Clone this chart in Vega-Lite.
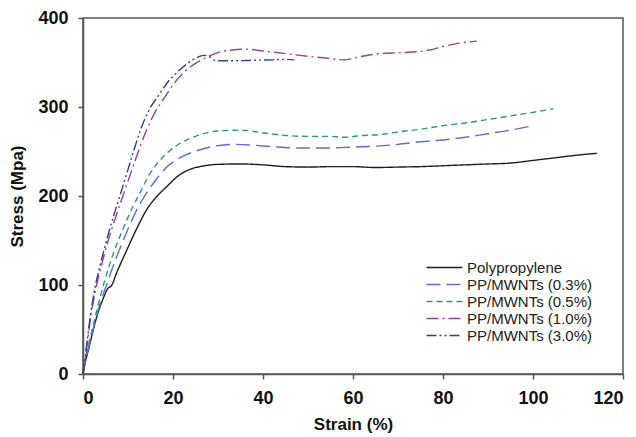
{
  "$schema": "https://vega.github.io/schema/vega-lite/v6.json",
  "width": 540,
  "height": 356,
  "autosize": "none",
  "padding": {"left": 83, "top": 18, "right": 13, "bottom": 63},
  "background": "white",
  "config": {
    "font": "Liberation Sans",
    "view": {"stroke": "#555555", "strokeWidth": 1.5},
    "axis": {
      "grid": false,
      "domainColor": "#555555",
      "domainWidth": 1.5,
      "tickColor": "#555555",
      "tickWidth": 1.5,
      "tickSize": 5,
      "labelFont": "Liberation Sans",
      "labelFontWeight": "bold",
      "labelFontSize": 18,
      "labelColor": "#111111",
      "titleFont": "Liberation Sans",
      "titleFontWeight": "bold",
      "titleFontSize": 17,
      "titleColor": "#111111"
    }
  },
  "data": {
    "values": [
      {"series": "Polypropylene", "strain": 0, "stress": 0},
      {"series": "Polypropylene", "strain": 0.5, "stress": 13},
      {"series": "Polypropylene", "strain": 1.25, "stress": 28},
      {"series": "Polypropylene", "strain": 2.2, "stress": 48},
      {"series": "Polypropylene", "strain": 3.1, "stress": 65},
      {"series": "Polypropylene", "strain": 4.5, "stress": 85},
      {"series": "Polypropylene", "strain": 5.5, "stress": 96},
      {"series": "Polypropylene", "strain": 6.3, "stress": 99},
      {"series": "Polypropylene", "strain": 7.5, "stress": 114},
      {"series": "Polypropylene", "strain": 9.8, "stress": 140},
      {"series": "Polypropylene", "strain": 12, "stress": 164},
      {"series": "Polypropylene", "strain": 14.2, "stress": 185},
      {"series": "Polypropylene", "strain": 16.5, "stress": 200},
      {"series": "Polypropylene", "strain": 18.7, "stress": 211},
      {"series": "Polypropylene", "strain": 21, "stress": 222},
      {"series": "Polypropylene", "strain": 23.8, "stress": 230},
      {"series": "Polypropylene", "strain": 26.5, "stress": 233.5},
      {"series": "Polypropylene", "strain": 29.8, "stress": 235.5},
      {"series": "Polypropylene", "strain": 35, "stress": 236},
      {"series": "Polypropylene", "strain": 40, "stress": 235},
      {"series": "Polypropylene", "strain": 45, "stress": 233},
      {"series": "Polypropylene", "strain": 50, "stress": 232.5},
      {"series": "Polypropylene", "strain": 55, "stress": 233},
      {"series": "Polypropylene", "strain": 60, "stress": 233},
      {"series": "Polypropylene", "strain": 65, "stress": 232},
      {"series": "Polypropylene", "strain": 70, "stress": 232.5},
      {"series": "Polypropylene", "strain": 75, "stress": 233},
      {"series": "Polypropylene", "strain": 80, "stress": 234},
      {"series": "Polypropylene", "strain": 85, "stress": 235},
      {"series": "Polypropylene", "strain": 90, "stress": 236},
      {"series": "Polypropylene", "strain": 95, "stress": 237},
      {"series": "Polypropylene", "strain": 100, "stress": 240},
      {"series": "Polypropylene", "strain": 105, "stress": 243},
      {"series": "Polypropylene", "strain": 110, "stress": 246},
      {"series": "Polypropylene", "strain": 114.2, "stress": 248},

      {"series": "PP/MWNTs (0.3%)", "strain": 0, "stress": 0},
      {"series": "PP/MWNTs (0.3%)", "strain": 0.5, "stress": 15},
      {"series": "PP/MWNTs (0.3%)", "strain": 1.25, "stress": 30},
      {"series": "PP/MWNTs (0.3%)", "strain": 3.1, "stress": 67},
      {"series": "PP/MWNTs (0.3%)", "strain": 5, "stress": 97},
      {"series": "PP/MWNTs (0.3%)", "strain": 7.9, "stress": 137},
      {"series": "PP/MWNTs (0.3%)", "strain": 10, "stress": 163},
      {"series": "PP/MWNTs (0.3%)", "strain": 12, "stress": 185},
      {"series": "PP/MWNTs (0.3%)", "strain": 15.3, "stress": 212},
      {"series": "PP/MWNTs (0.3%)", "strain": 18.5, "stress": 232},
      {"series": "PP/MWNTs (0.3%)", "strain": 22.4, "stress": 245},
      {"series": "PP/MWNTs (0.3%)", "strain": 26, "stress": 252},
      {"series": "PP/MWNTs (0.3%)", "strain": 29.8, "stress": 256.5},
      {"series": "PP/MWNTs (0.3%)", "strain": 34, "stress": 258},
      {"series": "PP/MWNTs (0.3%)", "strain": 38, "stress": 257},
      {"series": "PP/MWNTs (0.3%)", "strain": 42, "stress": 255.5},
      {"series": "PP/MWNTs (0.3%)", "strain": 48, "stress": 254},
      {"series": "PP/MWNTs (0.3%)", "strain": 55, "stress": 254},
      {"series": "PP/MWNTs (0.3%)", "strain": 60, "stress": 255},
      {"series": "PP/MWNTs (0.3%)", "strain": 65, "stress": 256},
      {"series": "PP/MWNTs (0.3%)", "strain": 70, "stress": 258},
      {"series": "PP/MWNTs (0.3%)", "strain": 75, "stress": 261},
      {"series": "PP/MWNTs (0.3%)", "strain": 80, "stress": 263},
      {"series": "PP/MWNTs (0.3%)", "strain": 85, "stress": 266},
      {"series": "PP/MWNTs (0.3%)", "strain": 90, "stress": 270},
      {"series": "PP/MWNTs (0.3%)", "strain": 95, "stress": 274},
      {"series": "PP/MWNTs (0.3%)", "strain": 100, "stress": 279},

      {"series": "PP/MWNTs (0.5%)", "strain": 0, "stress": 0},
      {"series": "PP/MWNTs (0.5%)", "strain": 0.5, "stress": 17},
      {"series": "PP/MWNTs (0.5%)", "strain": 1.25, "stress": 33},
      {"series": "PP/MWNTs (0.5%)", "strain": 3.1, "stress": 72},
      {"series": "PP/MWNTs (0.5%)", "strain": 5, "stress": 108},
      {"series": "PP/MWNTs (0.5%)", "strain": 6.8, "stress": 136},
      {"series": "PP/MWNTs (0.5%)", "strain": 8.8, "stress": 162},
      {"series": "PP/MWNTs (0.5%)", "strain": 10.9, "stress": 186},
      {"series": "PP/MWNTs (0.5%)", "strain": 12.4, "stress": 201},
      {"series": "PP/MWNTs (0.5%)", "strain": 15, "stress": 226},
      {"series": "PP/MWNTs (0.5%)", "strain": 18, "stress": 245},
      {"series": "PP/MWNTs (0.5%)", "strain": 20.9, "stress": 257},
      {"series": "PP/MWNTs (0.5%)", "strain": 25, "stress": 267},
      {"series": "PP/MWNTs (0.5%)", "strain": 29.8, "stress": 273},
      {"series": "PP/MWNTs (0.5%)", "strain": 35, "stress": 274},
      {"series": "PP/MWNTs (0.5%)", "strain": 40, "stress": 271},
      {"series": "PP/MWNTs (0.5%)", "strain": 45, "stress": 268},
      {"series": "PP/MWNTs (0.5%)", "strain": 50, "stress": 267},
      {"series": "PP/MWNTs (0.5%)", "strain": 55, "stress": 267},
      {"series": "PP/MWNTs (0.5%)", "strain": 58, "stress": 266},
      {"series": "PP/MWNTs (0.5%)", "strain": 62, "stress": 268},
      {"series": "PP/MWNTs (0.5%)", "strain": 66, "stress": 269},
      {"series": "PP/MWNTs (0.5%)", "strain": 70, "stress": 272},
      {"series": "PP/MWNTs (0.5%)", "strain": 75, "stress": 275},
      {"series": "PP/MWNTs (0.5%)", "strain": 80, "stress": 279},
      {"series": "PP/MWNTs (0.5%)", "strain": 85, "stress": 282},
      {"series": "PP/MWNTs (0.5%)", "strain": 90, "stress": 286},
      {"series": "PP/MWNTs (0.5%)", "strain": 95, "stress": 290},
      {"series": "PP/MWNTs (0.5%)", "strain": 100, "stress": 294},
      {"series": "PP/MWNTs (0.5%)", "strain": 104.5, "stress": 298},

      {"series": "PP/MWNTs (1.0%)", "strain": 0, "stress": 0},
      {"series": "PP/MWNTs (1.0%)", "strain": 0.7, "stress": 25},
      {"series": "PP/MWNTs (1.0%)", "strain": 1.6, "stress": 60},
      {"series": "PP/MWNTs (1.0%)", "strain": 2.7, "stress": 92},
      {"series": "PP/MWNTs (1.0%)", "strain": 4, "stress": 120},
      {"series": "PP/MWNTs (1.0%)", "strain": 5.6, "stress": 150},
      {"series": "PP/MWNTs (1.0%)", "strain": 7.3, "stress": 177},
      {"series": "PP/MWNTs (1.0%)", "strain": 9, "stress": 202},
      {"series": "PP/MWNTs (1.0%)", "strain": 11.6, "stress": 240},
      {"series": "PP/MWNTs (1.0%)", "strain": 14.2, "stress": 275},
      {"series": "PP/MWNTs (1.0%)", "strain": 16, "stress": 294},
      {"series": "PP/MWNTs (1.0%)", "strain": 18.3, "stress": 312},
      {"series": "PP/MWNTs (1.0%)", "strain": 20.3, "stress": 327},
      {"series": "PP/MWNTs (1.0%)", "strain": 22.4, "stress": 339},
      {"series": "PP/MWNTs (1.0%)", "strain": 25, "stress": 349},
      {"series": "PP/MWNTs (1.0%)", "strain": 27.5, "stress": 356},
      {"series": "PP/MWNTs (1.0%)", "strain": 30.5, "stress": 362},
      {"series": "PP/MWNTs (1.0%)", "strain": 33, "stress": 364},
      {"series": "PP/MWNTs (1.0%)", "strain": 36, "stress": 365},
      {"series": "PP/MWNTs (1.0%)", "strain": 40, "stress": 363},
      {"series": "PP/MWNTs (1.0%)", "strain": 45, "stress": 360},
      {"series": "PP/MWNTs (1.0%)", "strain": 50, "stress": 357},
      {"series": "PP/MWNTs (1.0%)", "strain": 54, "stress": 355},
      {"series": "PP/MWNTs (1.0%)", "strain": 58, "stress": 353},
      {"series": "PP/MWNTs (1.0%)", "strain": 62, "stress": 357},
      {"series": "PP/MWNTs (1.0%)", "strain": 66, "stress": 360},
      {"series": "PP/MWNTs (1.0%)", "strain": 70, "stress": 361},
      {"series": "PP/MWNTs (1.0%)", "strain": 74, "stress": 362},
      {"series": "PP/MWNTs (1.0%)", "strain": 77, "stress": 364},
      {"series": "PP/MWNTs (1.0%)", "strain": 80, "stress": 368},
      {"series": "PP/MWNTs (1.0%)", "strain": 84, "stress": 372},
      {"series": "PP/MWNTs (1.0%)", "strain": 87.5, "stress": 374},

      {"series": "PP/MWNTs (3.0%)", "strain": 0, "stress": 0},
      {"series": "PP/MWNTs (3.0%)", "strain": 0.7, "stress": 28},
      {"series": "PP/MWNTs (3.0%)", "strain": 1.6, "stress": 64},
      {"series": "PP/MWNTs (3.0%)", "strain": 2.7, "stress": 98},
      {"series": "PP/MWNTs (3.0%)", "strain": 4, "stress": 126},
      {"series": "PP/MWNTs (3.0%)", "strain": 5.5, "stress": 155},
      {"series": "PP/MWNTs (3.0%)", "strain": 7, "stress": 181},
      {"series": "PP/MWNTs (3.0%)", "strain": 8.3, "stress": 202},
      {"series": "PP/MWNTs (3.0%)", "strain": 10.5, "stress": 238},
      {"series": "PP/MWNTs (3.0%)", "strain": 12.7, "stress": 273},
      {"series": "PP/MWNTs (3.0%)", "strain": 14.5, "stress": 295},
      {"series": "PP/MWNTs (3.0%)", "strain": 16.8, "stress": 313},
      {"series": "PP/MWNTs (3.0%)", "strain": 18.7, "stress": 327},
      {"series": "PP/MWNTs (3.0%)", "strain": 20.9, "stress": 339},
      {"series": "PP/MWNTs (3.0%)", "strain": 23, "stress": 348},
      {"series": "PP/MWNTs (3.0%)", "strain": 25.3, "stress": 355.5},
      {"series": "PP/MWNTs (3.0%)", "strain": 26.8, "stress": 358},
      {"series": "PP/MWNTs (3.0%)", "strain": 28, "stress": 357},
      {"series": "PP/MWNTs (3.0%)", "strain": 29, "stress": 353},
      {"series": "PP/MWNTs (3.0%)", "strain": 30, "stress": 352},
      {"series": "PP/MWNTs (3.0%)", "strain": 34, "stress": 352},
      {"series": "PP/MWNTs (3.0%)", "strain": 38, "stress": 352.5},
      {"series": "PP/MWNTs (3.0%)", "strain": 42, "stress": 353},
      {"series": "PP/MWNTs (3.0%)", "strain": 45, "stress": 353.5},
      {"series": "PP/MWNTs (3.0%)", "strain": 47, "stress": 353}
    ]
  },
  "mark": {"type": "line", "strokeWidth": 1.4, "interpolate": "monotone"},
  "encoding": {
    "x": {
      "field": "strain", "type": "quantitative",
      "scale": {"domain": [0, 120], "nice": false},
      "axis": {"values": [0, 20, 40, 60, 80, 100, 120], "title": "Strain (%)", "labelPadding": 10, "titlePadding": 9}
    },
    "y": {
      "field": "stress", "type": "quantitative",
      "scale": {"domain": [0, 400], "nice": false},
      "axis": {"values": [0, 100, 200, 300, 400], "title": "Stress (Mpa)", "labelPadding": 10, "titlePadding": 11}
    },
    "order": {"field": "strain", "type": "quantitative"},
    "color": {
      "field": "series", "type": "nominal",
      "scale": {
        "domain": ["Polypropylene", "PP/MWNTs (0.3%)", "PP/MWNTs (0.5%)", "PP/MWNTs (1.0%)", "PP/MWNTs (3.0%)"],
        "range": ["#1e1e1e", "#5d6ed0", "#2a9688", "#9a3f9c", "#3b3b8c"]
      },
      "legend": {
        "title": null,
        "orient": "none",
        "legendX": 354,
        "legendY": 242,
        "symbolType": "M-3,0H3",
        "symbolSize": 144,
        "symbolStrokeWidth": 1.5,
        "labelOffset": 15,
        "labelFontSize": 15,
        "labelColor": "#222222",
        "labelFont": "Liberation Sans",
        "rowPadding": 1,
        "padding": 0
      }
    },
    "strokeDash": {
      "field": "series", "type": "nominal",
      "scale": {
        "domain": ["Polypropylene", "PP/MWNTs (0.3%)", "PP/MWNTs (0.5%)", "PP/MWNTs (1.0%)", "PP/MWNTs (3.0%)"],
        "range": [[1, 0], [14, 6], [6, 4], [12, 4, 2, 4], [10, 3, 2, 3, 2, 3]]
      },
      "legend": null
    }
  }
}
